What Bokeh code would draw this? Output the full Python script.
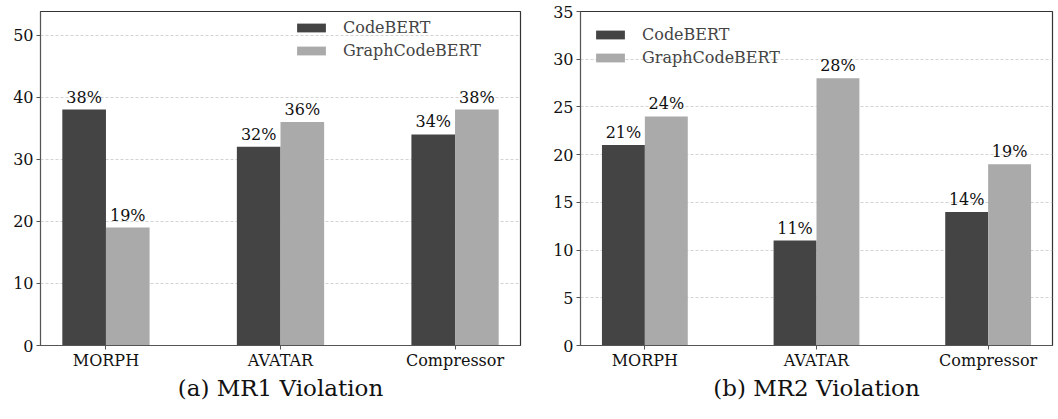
from bokeh.plotting import figure
from bokeh.layouts import row
from bokeh.models import Range1d, FixedTicker, Legend, LegendItem, ColumnDataSource
from bokeh.embed import file_html
from bokeh.resources import INLINE
from bokeh.core.properties import value

categories = ["MORPH", "AVATAR", "Compressor"]
series_names = ["CodeBERT", "GraphCodeBERT"]
mr1_codebert = [38, 32, 34]
mr1_graphcodebert = [19, 36, 38]
mr2_codebert = [21, 11, 14]
mr2_graphcodebert = [24, 28, 19]
mr1_yticks = [0, 10, 20, 30, 40, 50]
mr2_yticks = [0, 5, 10, 15, 20, 25, 30, 35]
captions = ["(a) MR1 Violation", "(b) MR2 Violation"]

DARK = "#444444"
LIGHT = "#aaaaaa"
FONT = "DejaVu Serif"
BAR_W = 0.25


def make_panel(vals_a, vals_b, yticks, ymax, caption, width, min_left, min_right, min_top, legend_loc):
    p = figure(width=width, height=400, output_backend="svg", toolbar_location=None,
               x_range=Range1d(-0.375, 2.375), y_range=Range1d(0, ymax),
               min_border_left=min_left, min_border_right=min_right,
               min_border_top=min_top, min_border_bottom=0)
    xs = list(range(len(categories)))
    xa = [x - BAR_W / 2 for x in xs]
    xb = [x + BAR_W / 2 for x in xs]
    src_a = ColumnDataSource(dict(x=xa, top=vals_a, lab=[f"{v}%" for v in vals_a]))
    src_b = ColumnDataSource(dict(x=xb, top=vals_b, lab=[f"{v}%" for v in vals_b]))
    ra = p.vbar(x="x", top="top", width=BAR_W, source=src_a, fill_color=DARK, line_color=None)
    rb = p.vbar(x="x", top="top", width=BAR_W, source=src_b, fill_color=LIGHT, line_color=None)
    for s in (src_a, src_b):
        p.text(x="x", y="top", text="lab", source=s, text_align="center", text_baseline="bottom",
               y_offset=-3, text_font=value(FONT), text_font_size="16px", text_color="#111111")

    p.xaxis.ticker = FixedTicker(ticks=xs)
    p.xaxis.major_label_overrides = {i: c for i, c in enumerate(categories)}
    p.yaxis.ticker = FixedTicker(ticks=yticks)
    for ax in (p.xaxis[0], p.yaxis[0]):
        ax.major_label_text_font = FONT
        ax.major_label_text_font_size = "16px"
        ax.major_label_text_color = "#111111"
        ax.axis_line_color = "#555555"
        ax.major_tick_line_color = "#555555"
        ax.major_tick_out = 4
        ax.major_tick_in = 0
        ax.minor_tick_line_color = None
        ax.major_label_standoff = 3
    p.xaxis[0].major_label_standoff = 1
    p.xgrid.grid_line_color = None
    p.ygrid.ticker = FixedTicker(ticks=yticks)
    p.ygrid.grid_line_color = "#c8c8c8"
    p.ygrid.grid_line_dash = "3 2"
    p.ygrid.grid_line_width = 0.8
    p.outline_line_color = "#333333"
    p.outline_line_width = 1.2

    legend = Legend(items=[LegendItem(label=series_names[0], renderers=[ra]),
                           LegendItem(label=series_names[1], renderers=[rb])],
                    location=legend_loc)
    legend.border_line_color = None
    legend.background_fill_alpha = 0
    legend.label_text_font = FONT
    legend.label_text_font_size = "16px"
    legend.glyph_width = 36
    legend.glyph_height = 11
    legend.label_standoff = 14
    legend.label_height = 18
    legend.spacing = 4
    legend.padding = 4
    legend.margin = 0
    p.add_layout(legend)

    p.title.text = caption
    p.title_location = "below"
    p.title.align = "center"
    p.title.text_font = FONT
    p.title.text_font_size = "23px"
    p.title.text_font_style = "normal"
    p.title.text_color = "#111111"
    p.title.standoff = 0
    return p


p1 = make_panel(mr1_codebert, mr1_graphcodebert, mr1_yticks, 53.8, captions[0],
                width=530, min_left=40, min_right=10, min_top=5, legend_loc=(253, 285))
p2 = make_panel(mr2_codebert, mr2_graphcodebert, mr2_yticks, 35, captions[1],
                width=526, min_left=50, min_right=4, min_top=11, legend_loc=(12, 278))

layout = row(p1, p2, spacing=0)
open("out.html", "w").write(file_html(layout, INLINE))
